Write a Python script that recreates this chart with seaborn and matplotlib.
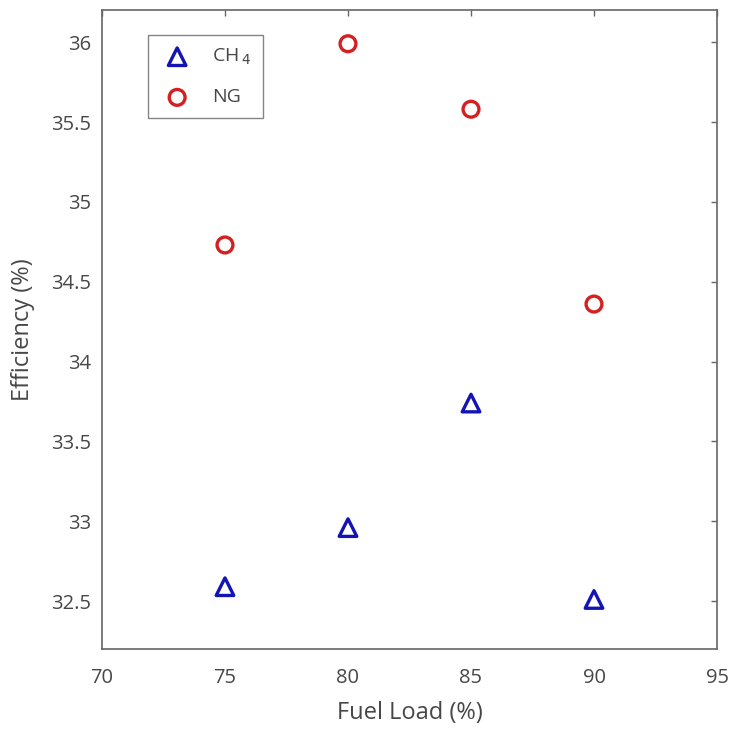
import pandas as pd
import matplotlib.pyplot as plt
import seaborn as sns

# values
fuel_load = [75, 80, 85, 90]
eff_ch4 = [32.59, 32.96, 33.74, 32.51]
eff_ng = [34.73, 35.99, 35.58, 34.36]

sns.set_style("white")
plt.rcParams['font.family'] = ['Open Sans', 'DejaVu Sans']

text_col = '#474747'
fig = plt.figure(figsize=(7.3, 7.3), dpi=100)
ax = fig.add_axes([0.1397, 0.111, 0.8425, 0.875])

df = pd.DataFrame({
    'load': fuel_load * 2,
    'eff': eff_ch4 + eff_ng,
    'fuel': ['CH4'] * 4 + ['NG'] * 4,
})

sns.scatterplot(data=df[df.fuel == 'CH4'], x='load', y='eff', ax=ax,
                marker='^', s=160, facecolor='none', edgecolor='#1414b4',
                linewidth=2.4, label='CH$_{\\,4}$')
sns.scatterplot(data=df[df.fuel == 'NG'], x='load', y='eff', ax=ax,
                marker='o', s=130, facecolor='none', edgecolor='#d42020',
                linewidth=2.4, label='NG')

ax.set_xlim(70, 95)
ax.set_ylim(32.2, 36.2)
ax.set_xticks([70, 75, 80, 85, 90, 95])
ax.set_yticks([32.5, 33, 33.5, 34, 34.5, 35, 35.5, 36])
ax.set_yticklabels(['32.5', '33', '33.5', '34', '34.5', '35', '35.5', '36'])

ax.tick_params(direction='in', length=4.5, width=1, colors='#666666',
               labelcolor=text_col, labelsize=14.5, top=True, right=True,
               pad=8)
ax.tick_params(axis='x', pad=14)
for sp in ax.spines.values():
    sp.set_color('#666666')
    sp.set_linewidth(1.2)

ax.set_xlabel('Fuel Load (%)', fontsize=17, color=text_col, labelpad=9)
ax.set_ylabel('Efficiency (%)', fontsize=17, color=text_col, labelpad=11)

leg = ax.legend(loc='upper left', bbox_to_anchor=(0.0748, 0.961), frameon=True,
                fancybox=False, edgecolor='#666666', fontsize=14,
                labelcolor=text_col, borderpad=0.6, labelspacing=1.1,
                handlelength=1.8, handletextpad=0.9, borderaxespad=0)
leg.get_frame().set_linewidth(1)

plt.savefig('out.png', dpi=100)
plt.close()
